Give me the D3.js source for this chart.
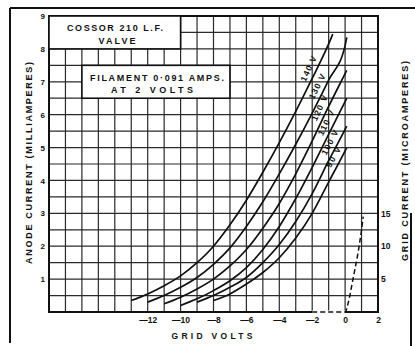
<!DOCTYPE html>
<html><head><meta charset="utf-8">
<script src="https://cdn.jsdelivr.net/npm/d3@7"></script>
<style>
html,body{margin:0;padding:0;background:#fff;}
svg{display:block;}
text{font-family:"Liberation Sans",Arial,sans-serif;font-weight:bold;fill:#111;}
</style></head>
<body>
<script>
// ---- data ----
const xTickValues = [-12, -10, -8, -6, -4, -2, 0, 2];
const yTickValues = [1, 2, 3, 4, 5, 6, 7, 8, 9];
const gridTickValues = [5, 10, 15];

const curveLabels = ["140 V", "130 V", "120 V", "110 V", "100 V", "90 V"];
const v140 = [-13, -12, -11, -10, -9, -8, -7, -6, -5, -4, -3, -2, -1, -0.75];
const i140 = [0.35, 0.55, 0.8, 1.1, 1.5, 2.0, 2.65, 3.4, 4.25, 5.15, 6.1, 7.1, 8.15, 8.45];
const v130 = [-12, -11, -10, -9, -8, -7, -6, -5, -4, -3, -2, -1, 0, 0.1];
const i130 = [0.3, 0.5, 0.75, 1.05, 1.45, 1.95, 2.6, 3.35, 4.2, 5.1, 6.05, 7.05, 8.1, 8.35];
const v120 = [-11, -10, -9, -8, -7, -6, -5, -4, -3, -2, -1, 0, 0.1];
const i120 = [0.25, 0.45, 0.7, 1.0, 1.4, 1.9, 2.55, 3.3, 4.2, 5.2, 6.25, 7.25, 7.35];
const v110 = [-10, -9, -8, -7, -6, -5, -4, -3, -2, -1, 0, 0.1];
const i110 = [0.2, 0.4, 0.65, 0.95, 1.35, 1.9, 2.6, 3.45, 4.4, 5.4, 6.4, 6.5];
const v100 = [-9, -8, -7, -6, -5, -4, -3, -2, -1, 0, 0.1];
const i100 = [0.3, 0.5, 0.75, 1.05, 1.5, 2.05, 2.75, 3.6, 4.6, 5.55, 5.65];
const v90 = [-8, -7, -6, -5, -4, -3, -2, -1, 0, 0.1];
const i90 = [0.35, 0.55, 0.85, 1.2, 1.65, 2.25, 3.0, 3.95, 4.9, 5.0];

const gridV = [-2, 0, 0.2, 0.5, 0.75, 1.0, 1.1];
const gridI = [0, 0, 1.5, 5.3, 8.5, 12.5, 14.5]; // microamperes

const curves = [[v140, i140], [v130, i130], [v120, i120], [v110, i110], [v100, i100], [v90, i90]];
const labelLevels = [7.3, 6.75, 6.1, 5.65, 5.05, 4.6];

// ---- layout ----
const W = 415, H = 346;
const svg = d3.select("body").append("svg").attr("width", W).attr("height", H);

const x = d3.scaleLinear().domain([-18, 2]).range([49, 378]);
const y = d3.scaleLinear().domain([0, 9]).range([312, 16]);
const y2 = d3.scaleLinear().domain([0, 45]).range([312, 16]);

// outer frame (scanned page border)
const frame = svg.append("g").attr("stroke", "#111").attr("stroke-width", 2);
frame.append("line").attr("x1", 10).attr("y1", 8).attr("x2", 415).attr("y2", 8);
frame.append("line").attr("x1", 10).attr("y1", 8).attr("x2", 10).attr("y2", 343);
frame.append("line").attr("x1", 411).attr("y1", 213).attr("x2", 411).attr("y2", 346);

// grid
const g = svg.append("g");
g.append("g").selectAll("line").data(d3.range(-17, 2)).join("line")
  .attr("x1", d => x(d)).attr("x2", d => x(d)).attr("y1", y(0)).attr("y2", y(9))
  .attr("stroke", "#2a2a2a").attr("stroke-width", 1.2);
g.append("g").selectAll("line").data(d3.range(0.5, 9, 0.5)).join("line")
  .attr("x1", x(-18)).attr("x2", x(2)).attr("y1", d => y(d)).attr("y2", d => y(d))
  .attr("stroke", "#2a2a2a").attr("stroke-width", 1.2);

// plot border
g.append("rect").attr("x", x(-18)).attr("y", y(9))
  .attr("width", x(2) - x(-18)).attr("height", y(0) - y(9))
  .attr("fill", "none").attr("stroke", "#111").attr("stroke-width", 2);

// boxes
function box(v0, v1, i0, i1, lines, cy) {
  g.append("rect").attr("x", x(v0)).attr("y", y(i1))
    .attr("width", x(v1) - x(v0)).attr("height", y(i0) - y(i1))
    .attr("fill", "#fff").attr("stroke", "#111").attr("stroke-width", 1.6);
  lines.forEach((l, k) => {
    const t = g.append("text").attr("x", l.cx).attr("y", cy[k])
      .attr("text-anchor", "middle").attr("font-size", 9).text(l.t);
    if (l.len) t.attr("textLength", l.len).attr("lengthAdjust", "spacing");
  });
}
box(-18, -10, 8, 9, [{t: "COSSOR 210 L.F.", cx: 115, len: 96}, {t: "VALVE", cx: 117, len: 37}], [30.5, 43.5]);
box(-16, -7, 6.5, 7.5, [{t: "FILAMENT  0·091  AMPS.", cx: 157, len: 134}, {t: "AT 2 VOLTS", cx: 152, len: 82}], [80.5, 93]);

// axes labels
const ax = svg.append("g");
ax.append("g").attr("transform", `translate(${x(-18)},0)`)
  .call(d3.axisLeft(y).tickValues(yTickValues).tickSize(0).tickPadding(4).tickFormat(d3.format("d")))
  .call(s => s.select(".domain").remove())
  .call(s => s.selectAll("text").attr("font-size", 8).attr("font-family", "Liberation Sans").attr("font-weight", "bold").attr("fill", "#111"));
ax.append("g").attr("transform", `translate(0,${y(0)})`)
  .call(d3.axisBottom(x).tickValues(xTickValues).tickSize(0).tickPadding(5)
    .tickFormat(d => d < 0 ? "\u2014" + Math.abs(d) : String(d)))
  .call(s => s.select(".domain").remove())
  .call(s => s.selectAll("text").attr("font-size", 8.5).attr("font-family", "Liberation Sans").attr("font-weight", "bold").attr("fill", "#111"));
ax.append("g").attr("transform", `translate(${x(2)},0)`)
  .call(d3.axisRight(y2).tickValues(gridTickValues).tickSize(0).tickPadding(3))
  .call(s => s.select(".domain").remove())
  .call(s => s.selectAll("text").attr("font-size", 8.5).attr("font-family", "Liberation Sans").attr("font-weight", "bold").attr("fill", "#111"));

// titles
svg.append("text").attr("transform", "translate(32,163) rotate(-90)")
  .attr("text-anchor", "middle").attr("font-size", 9)
  .attr("textLength", 202).attr("lengthAdjust", "spacing")
  .text("ANODE  CURRENT  (MILLIAMPERES)");
svg.append("text").attr("transform", "translate(407.5,161) rotate(-90)")
  .attr("text-anchor", "middle").attr("font-size", 9)
  .attr("textLength", 200).attr("lengthAdjust", "spacing")
  .text("GRID  CURRENT  (MICROAMPERES)");
svg.append("text").attr("x", 212).attr("y", 339).attr("text-anchor", "middle")
  .attr("font-size", 8.5).attr("textLength", 81).attr("lengthAdjust", "spacing")
  .text("GRID      VOLTS");

// anode curves
const line = d3.line().x(d => x(d[0])).y(d => y(d[1])).curve(d3.curveMonotoneX);
curves.forEach(([vv, ii], k) => {
  const pts = vv.map((v, j) => [v, ii[j]]);
  svg.append("path").attr("d", line(pts)).attr("fill", "none")
    .attr("stroke", "#111").attr("stroke-width", 1.7);
  // label along the line at given current level
  const lvl = labelLevels[k];
  let j = ii.findIndex(c => c >= lvl);
  if (j < 1) j = 1;
  const t = (lvl - ii[j - 1]) / (ii[j] - ii[j - 1]);
  const vl = vv[j - 1] + t * (vv[j] - vv[j - 1]);
  const px = x(vl), py = y(lvl);
  const dx = x(vv[j]) - x(vv[j - 1]), dy = y(ii[j]) - y(ii[j - 1]);
  const ang = Math.atan2(dy, dx);
  const off = 7.5;
  const nx = Math.sin(ang) * off, ny = -Math.cos(ang) * off;
  svg.append("text").attr("transform", `translate(${px + nx},${py + ny}) rotate(${ang * 180 / Math.PI})`)
    .attr("text-anchor", "middle").attr("dy", "0.35em").attr("font-size", 8.5)
    .attr("textLength", curveLabels[k].length > 4 ? 27 : 22).attr("lengthAdjust", "spacing")
    .text(curveLabels[k]);
});

// grid current (dashed)
const gpts = gridV.map((v, j) => [v, gridI[j]]);
svg.append("path").attr("d", d3.line().x(d => x(d[0])).y(d => y2(d[1]))(gpts.slice(0, 2)))
  .attr("stroke", "#fff").attr("stroke-width", 3);
svg.append("path").attr("d", d3.line().x(d => x(d[0])).y(d => y2(d[1])).curve(d3.curveMonotoneX)(gpts))
  .attr("fill", "none").attr("stroke", "#111").attr("stroke-width", 1.5).attr("stroke-dasharray", "5,3");
</script>
</body></html>
